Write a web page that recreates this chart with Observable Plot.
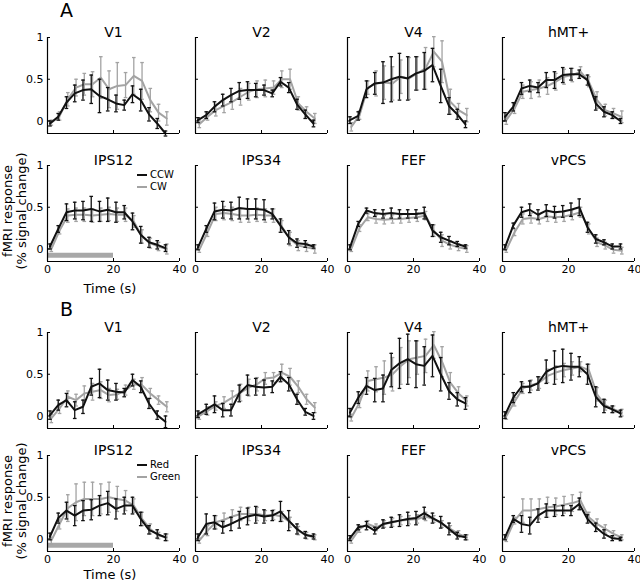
<!DOCTYPE html>
<html><head><meta charset="utf-8">
<script src="https://cdn.jsdelivr.net/npm/d3@7"></script>
<script src="https://cdn.jsdelivr.net/npm/@observablehq/plot@0.6"></script>
<style>
body{margin:0;background:#fff;font-family:"DejaVu Sans",sans-serif;}
#fig{position:relative;width:640px;height:582px;overflow:hidden;background:#fff;}
.abs{position:absolute;white-space:nowrap;color:#000;}
.sw{display:inline-block;width:10px;height:0;border-top:2px solid #000;vertical-align:middle;margin-right:3px;}
</style></head><body><div id="fig"></div>
<script>
// time of each sample (s)
const time = [0.75, 3.25, 5.75, 8.25, 10.75, 13.25, 15.75, 18.25, 20.75, 23.25, 25.75, 28.25, 30.75, 33.25, 35.75];
const regions = ["V1", "V2", "V4", "hMT+", "IPS12", "IPS34", "FEF", "vPCS"];
const sections = ["A", "B"];
const seriesA = ["CCW", "CW"];
const seriesB = ["Red", "Green"];
const yTicks = [0, 0.5, 1];
const xTicks = [0, 20, 40];
const stimOn = 0, stimOff = 20, stimLevel = -0.075;
const yMin = -0.15, yMax = 1;

// ---- Section A (CCW = black, CW = gray) ----
const A_V1_k  = [-0.03, 0.05, 0.22, 0.33, 0.37, 0.38, 0.30, 0.26, 0.21, 0.19, 0.32, 0.25, 0.08, -0.03, -0.15];
const A_V1_ke = [0.03, 0.04, 0.07, 0.10, 0.12, 0.17, 0.20, 0.14, 0.10, 0.06, 0.10, 0.13, 0.08, 0.06, 0.03];
const A_V1_g  = [-0.02, 0.06, 0.26, 0.40, 0.44, 0.44, 0.52, 0.38, 0.42, 0.43, 0.54, 0.48, 0.25, 0.10, 0.03];
const A_V1_ge = [0.03, 0.05, 0.08, 0.10, 0.13, 0.15, 0.25, 0.22, 0.28, 0.15, 0.22, 0.22, 0.14, 0.10, 0.08];

const A_V2_k  = [0.01, 0.07, 0.17, 0.25, 0.31, 0.36, 0.37, 0.37, 0.37, 0.33, 0.47, 0.40, 0.20, 0.08, -0.03];
const A_V2_ke = [0.03, 0.04, 0.06, 0.07, 0.08, 0.10, 0.10, 0.08, 0.06, 0.04, 0.05, 0.06, 0.06, 0.05, 0.04];
const A_V2_g  = [-0.04, 0.05, 0.13, 0.18, 0.23, 0.29, 0.35, 0.38, 0.39, 0.40, 0.50, 0.50, 0.21, 0.11, 0.03];
const A_V2_ge = [0.04, 0.04, 0.07, 0.08, 0.09, 0.10, 0.10, 0.10, 0.10, 0.08, 0.10, 0.12, 0.08, 0.06, 0.06];

const A_V4_k  = [0.01, 0.06, 0.38, 0.45, 0.46, 0.50, 0.53, 0.51, 0.57, 0.60, 0.67, 0.42, 0.18, 0.08, -0.04];
const A_V4_ke = [0.04, 0.05, 0.10, 0.13, 0.25, 0.27, 0.28, 0.26, 0.20, 0.22, 0.20, 0.20, 0.10, 0.06, 0.04];
const A_V4_g  = [-0.07, 0.07, 0.40, 0.45, 0.46, 0.45, 0.53, 0.51, 0.57, 0.63, 0.83, 0.71, 0.23, 0.13, 0.07];
const A_V4_ge = [0.05, 0.05, 0.08, 0.15, 0.20, 0.20, 0.20, 0.25, 0.20, 0.25, 0.18, 0.25, 0.15, 0.08, 0.08];

const A_hMT_k  = [0.05, 0.17, 0.39, 0.42, 0.40, 0.49, 0.49, 0.55, 0.56, 0.56, 0.49, 0.21, 0.11, 0.07, 0.00];
const A_hMT_ke = [0.05, 0.05, 0.07, 0.07, 0.06, 0.09, 0.10, 0.09, 0.07, 0.05, 0.06, 0.08, 0.06, 0.04, 0.03];
const A_hMT_g  = [0.01, 0.15, 0.35, 0.37, 0.39, 0.42, 0.47, 0.53, 0.55, 0.59, 0.47, 0.25, 0.13, 0.09, 0.05];
const A_hMT_ge = [0.05, 0.06, 0.08, 0.10, 0.10, 0.10, 0.10, 0.09, 0.08, 0.06, 0.06, 0.10, 0.07, 0.06, 0.07];

const A_IPS12_k  = [0.03, 0.24, 0.44, 0.46, 0.46, 0.48, 0.45, 0.47, 0.44, 0.44, 0.33, 0.17, 0.08, 0.05, 0.01];
const A_IPS12_ke = [0.03, 0.04, 0.10, 0.10, 0.11, 0.15, 0.12, 0.14, 0.12, 0.08, 0.10, 0.10, 0.06, 0.05, 0.04];
const A_IPS12_g  = [0.00, 0.22, 0.40, 0.41, 0.41, 0.40, 0.41, 0.42, 0.41, 0.41, 0.33, 0.15, 0.07, 0.03, 0.00];
const A_IPS12_ge = [0.03, 0.04, 0.08, 0.08, 0.08, 0.08, 0.08, 0.08, 0.08, 0.08, 0.07, 0.08, 0.06, 0.05, 0.06];

const A_IPS34_k  = [0.02, 0.24, 0.45, 0.47, 0.46, 0.49, 0.48, 0.48, 0.47, 0.42, 0.28, 0.14, 0.07, 0.06, 0.03];
const A_IPS34_ke = [0.03, 0.04, 0.10, 0.10, 0.10, 0.13, 0.12, 0.12, 0.12, 0.06, 0.08, 0.08, 0.05, 0.04, 0.02];
const A_IPS34_g  = [-0.01, 0.20, 0.42, 0.43, 0.42, 0.40, 0.40, 0.41, 0.40, 0.40, 0.27, 0.12, 0.04, 0.02, 0.00];
const A_IPS34_ge = [0.03, 0.05, 0.08, 0.08, 0.08, 0.08, 0.08, 0.08, 0.08, 0.08, 0.07, 0.08, 0.06, 0.05, 0.05];

const A_FEF_k  = [0.02, 0.30, 0.46, 0.43, 0.42, 0.43, 0.42, 0.42, 0.42, 0.43, 0.22, 0.14, 0.10, 0.06, 0.03];
const A_FEF_ke = [0.03, 0.03, 0.03, 0.04, 0.05, 0.06, 0.05, 0.05, 0.05, 0.07, 0.07, 0.06, 0.05, 0.03, 0.02];
const A_FEF_g  = [0.00, 0.25, 0.38, 0.36, 0.35, 0.36, 0.36, 0.37, 0.38, 0.40, 0.22, 0.10, 0.05, 0.02, 0.00];
const A_FEF_ge = [0.03, 0.04, 0.04, 0.05, 0.05, 0.05, 0.05, 0.05, 0.05, 0.05, 0.07, 0.07, 0.05, 0.04, 0.04];

const A_vPCS_k  = [0.02, 0.28, 0.44, 0.47, 0.41, 0.46, 0.44, 0.45, 0.47, 0.50, 0.26, 0.12, 0.08, 0.03, 0.03];
const A_vPCS_ke = [0.03, 0.03, 0.06, 0.07, 0.06, 0.07, 0.07, 0.07, 0.08, 0.10, 0.06, 0.05, 0.03, 0.03, 0.03];
const A_vPCS_g  = [-0.01, 0.20, 0.36, 0.37, 0.36, 0.39, 0.38, 0.39, 0.41, 0.44, 0.24, 0.08, 0.04, -0.01, -0.02];
const A_vPCS_ge = [0.03, 0.04, 0.06, 0.06, 0.06, 0.06, 0.06, 0.06, 0.06, 0.06, 0.06, 0.05, 0.04, 0.04, 0.04];

// ---- Section B (Red = black, Green = gray) ----
const B_V1_k  = [0.01, 0.13, 0.19, 0.07, 0.11, 0.35, 0.39, 0.31, 0.29, 0.28, 0.43, 0.35, 0.15, 0.01, -0.07];
const B_V1_ke = [0.05, 0.06, 0.08, 0.10, 0.08, 0.10, 0.17, 0.12, 0.10, 0.05, 0.07, 0.07, 0.06, 0.05, 0.07];
const B_V1_g  = [-0.03, 0.09, 0.23, 0.19, 0.27, 0.29, 0.31, 0.25, 0.26, 0.31, 0.38, 0.37, 0.27, 0.19, 0.11];
const B_V1_ge = [0.05, 0.06, 0.07, 0.07, 0.09, 0.10, 0.10, 0.08, 0.06, 0.06, 0.06, 0.09, 0.06, 0.05, 0.06];

const B_V2_k  = [0.02, 0.08, 0.14, 0.07, 0.07, 0.27, 0.37, 0.35, 0.34, 0.35, 0.47, 0.38, 0.20, 0.05, 0.00];
const B_V2_ke = [0.04, 0.06, 0.10, 0.08, 0.07, 0.10, 0.12, 0.10, 0.09, 0.07, 0.06, 0.08, 0.06, 0.04, 0.04];
const B_V2_g  = [0.00, 0.06, 0.12, 0.16, 0.22, 0.28, 0.34, 0.38, 0.45, 0.46, 0.52, 0.47, 0.35, 0.20, 0.10];
const B_V2_ge = [0.04, 0.05, 0.05, 0.07, 0.08, 0.10, 0.10, 0.08, 0.07, 0.06, 0.10, 0.10, 0.07, 0.06, 0.06];

const B_V4_k  = [0.04, 0.22, 0.36, 0.31, 0.33, 0.55, 0.63, 0.68, 0.62, 0.60, 0.72, 0.50, 0.30, 0.20, 0.15];
const B_V4_ke = [0.05, 0.07, 0.10, 0.14, 0.16, 0.20, 0.30, 0.30, 0.28, 0.23, 0.25, 0.20, 0.10, 0.08, 0.07];
const B_V4_g  = [-0.02, 0.16, 0.42, 0.44, 0.46, 0.50, 0.60, 0.68, 0.70, 0.72, 0.85, 0.65, 0.40, 0.27, 0.18];
const B_V4_ge = [0.04, 0.06, 0.12, 0.15, 0.20, 0.20, 0.22, 0.22, 0.20, 0.20, 0.16, 0.18, 0.12, 0.08, 0.06];

const B_hMT_k  = [0.01, 0.22, 0.35, 0.35, 0.39, 0.53, 0.58, 0.60, 0.59, 0.59, 0.50, 0.23, 0.12, 0.08, 0.03];
const B_hMT_ke = [0.04, 0.06, 0.06, 0.07, 0.08, 0.14, 0.20, 0.20, 0.16, 0.12, 0.12, 0.12, 0.08, 0.04, 0.04];
const B_hMT_g  = [0.00, 0.17, 0.33, 0.37, 0.40, 0.48, 0.52, 0.55, 0.57, 0.59, 0.55, 0.26, 0.13, 0.08, 0.04];
const B_hMT_ge = [0.04, 0.05, 0.06, 0.06, 0.07, 0.08, 0.08, 0.08, 0.08, 0.06, 0.07, 0.08, 0.06, 0.04, 0.04];

const B_IPS12_k  = [0.03, 0.25, 0.34, 0.28, 0.34, 0.35, 0.40, 0.43, 0.36, 0.40, 0.40, 0.24, 0.11, 0.06, 0.02];
const B_IPS12_ke = [0.04, 0.06, 0.10, 0.12, 0.12, 0.12, 0.12, 0.14, 0.12, 0.10, 0.10, 0.08, 0.05, 0.05, 0.04];
const B_IPS12_g  = [-0.02, 0.18, 0.37, 0.44, 0.48, 0.48, 0.48, 0.50, 0.48, 0.46, 0.40, 0.24, 0.12, 0.04, 0.02];
const B_IPS12_ge = [0.04, 0.06, 0.16, 0.22, 0.20, 0.20, 0.18, 0.18, 0.15, 0.12, 0.08, 0.08, 0.06, 0.04, 0.04];

const B_IPS34_k  = [0.02, 0.18, 0.20, 0.14, 0.18, 0.23, 0.27, 0.29, 0.27, 0.28, 0.33, 0.22, 0.12, 0.05, 0.03];
const B_IPS34_ke = [0.04, 0.12, 0.08, 0.07, 0.08, 0.10, 0.10, 0.10, 0.08, 0.06, 0.12, 0.12, 0.06, 0.04, 0.03];
const B_IPS34_g  = [-0.02, 0.10, 0.20, 0.23, 0.27, 0.30, 0.30, 0.30, 0.28, 0.29, 0.27, 0.20, 0.10, 0.04, 0.02];
const B_IPS34_ge = [0.03, 0.06, 0.08, 0.08, 0.08, 0.08, 0.08, 0.08, 0.06, 0.06, 0.06, 0.06, 0.05, 0.04, 0.03];

const B_FEF_k  = [0.01, 0.14, 0.16, 0.10, 0.18, 0.20, 0.22, 0.24, 0.25, 0.31, 0.25, 0.20, 0.12, 0.04, 0.02];
const B_FEF_ke = [0.03, 0.03, 0.05, 0.04, 0.05, 0.06, 0.07, 0.08, 0.08, 0.07, 0.06, 0.07, 0.07, 0.04, 0.03];
const B_FEF_g  = [-0.02, 0.12, 0.18, 0.14, 0.18, 0.20, 0.22, 0.23, 0.24, 0.27, 0.24, 0.18, 0.12, 0.06, 0.02];
const B_FEF_ge = [0.03, 0.04, 0.04, 0.04, 0.04, 0.05, 0.05, 0.05, 0.05, 0.05, 0.04, 0.04, 0.04, 0.04, 0.03];

const B_vPCS_k  = [0.02, 0.24, 0.18, 0.16, 0.28, 0.34, 0.34, 0.34, 0.34, 0.42, 0.24, 0.14, 0.06, 0.01, 0.00];
const B_vPCS_ke = [0.03, 0.04, 0.10, 0.10, 0.08, 0.08, 0.07, 0.06, 0.06, 0.07, 0.05, 0.05, 0.05, 0.03, 0.02];
const B_vPCS_g  = [0.00, 0.22, 0.34, 0.34, 0.36, 0.38, 0.39, 0.41, 0.43, 0.46, 0.26, 0.18, 0.12, 0.06, 0.02];
const B_vPCS_ge = [0.03, 0.04, 0.14, 0.14, 0.12, 0.12, 0.10, 0.10, 0.10, 0.10, 0.06, 0.06, 0.05, 0.04, 0.03];

const dataA = [
  [A_V1_k, A_V1_ke, A_V1_g, A_V1_ge], [A_V2_k, A_V2_ke, A_V2_g, A_V2_ge],
  [A_V4_k, A_V4_ke, A_V4_g, A_V4_ge], [A_hMT_k, A_hMT_ke, A_hMT_g, A_hMT_ge],
  [A_IPS12_k, A_IPS12_ke, A_IPS12_g, A_IPS12_ge], [A_IPS34_k, A_IPS34_ke, A_IPS34_g, A_IPS34_ge],
  [A_FEF_k, A_FEF_ke, A_FEF_g, A_FEF_ge], [A_vPCS_k, A_vPCS_ke, A_vPCS_g, A_vPCS_ge]
];
const dataB = [
  [B_V1_k, B_V1_ke, B_V1_g, B_V1_ge], [B_V2_k, B_V2_ke, B_V2_g, B_V2_ge],
  [B_V4_k, B_V4_ke, B_V4_g, B_V4_ge], [B_hMT_k, B_hMT_ke, B_hMT_g, B_hMT_ge],
  [B_IPS12_k, B_IPS12_ke, B_IPS12_g, B_IPS12_ge], [B_IPS34_k, B_IPS34_ke, B_IPS34_g, B_IPS34_ge],
  [B_FEF_k, B_FEF_ke, B_FEF_g, B_FEF_ge], [B_vPCS_k, B_vPCS_ke, B_vPCS_g, B_vPCS_ge]
];

// ---- layout ----
const colX = [47, 195, 347, 502];
const rowY = [37, 165, 332, 455];
const PW = 132, PH = 96;
const mL = 30, mR = 8, mT = 24, mB = 28;
const BLACK = "#111", GRAY = "#a3a3a3";
const fig = document.getElementById("fig");

function makePanel(sec, ri, arrs) {
  const col = ri % 4, sub = Math.floor(ri / 4);
  const row = sec * 2 + sub;
  const [k, ke, g, ge] = arrs;
  const black = k.map((m, i) => ({t: time[i], m, e: ke[i]}));
  const gray = g.map((m, i) => ({t: time[i] + 0.4, m, e: ge[i]}));
  const first = col === 0, bottom = sub === 1;
  const errMarks = (d, c) => [
    Plot.ruleX(d, {x: "t", y1: v => v.m - v.e, y2: v => v.m + v.e, stroke: c, strokeWidth: 1.3}),
    Plot.link(d, {x1: v => v.t - 0.55, x2: v => v.t + 0.55, y1: v => v.m + v.e, y2: v => v.m + v.e, stroke: c, strokeWidth: 1.3}),
    Plot.link(d, {x1: v => v.t - 0.55, x2: v => v.t + 0.55, y1: v => v.m - v.e, y2: v => v.m - v.e, stroke: c, strokeWidth: 1.3})
  ];
  const marks = [];
  if (first && bottom) {
    marks.push(Plot.ruleY([{a: stimOn, b: stimOff, y: stimLevel}], {x1: "a", x2: "b", y: "y", stroke: "#a8a8a8", strokeWidth: 5}));
  }
  marks.push(
    ...errMarks(gray, GRAY),
    Plot.line(gray, {x: "t", y: "m", stroke: GRAY, strokeWidth: 2}),
    ...errMarks(black, BLACK),
    Plot.line(black, {x: "t", y: "m", stroke: BLACK, strokeWidth: 2}),
    Plot.ruleX([0], {stroke: "#000", strokeWidth: 1.2}),
    Plot.ruleY([yMin], {stroke: "#000", strokeWidth: 1.2}),
    Plot.axisY(yTicks, {anchor: "left", tickSize: -3, tickPadding: 7, fontSize: 11, label: null,
      tickFormat: first ? (d => String(d)) : (() => "")}),
    Plot.axisX(xTicks, {anchor: "bottom", tickSize: -3, tickPadding: 7, fontSize: 11, label: null,
      tickFormat: bottom ? (d => String(d)) : (() => "")}),
    Plot.text([regions[ri]], {text: d => d, frameAnchor: "top", lineAnchor: "bottom", dy: -1, fontSize: 14, fill: "#000"})
  );
  const svg = Plot.plot({
    width: mL + PW + mR, height: mT + PH + mB,
    marginLeft: mL, marginRight: mR, marginTop: mT, marginBottom: mB,
    x: {domain: [0, 40], label: null},
    y: {domain: [yMin, yMax], label: null},
    style: {background: "transparent", overflow: "visible", fontFamily: "DejaVu Sans", color: "#000"},
    marks
  });
  svg.style.position = "absolute";
  svg.style.left = (colX[col] - mL) + "px";
  svg.style.top = (rowY[row] - mT) + "px";
  svg.style.maxWidth = "none";
  fig.appendChild(svg);
}

dataA.forEach((a, i) => makePanel(0, i, a));
dataB.forEach((a, i) => makePanel(1, i, a));

function addDiv(html, css) {
  const d = document.createElement("div");
  d.className = "abs";
  d.innerHTML = html;
  Object.assign(d.style, css);
  fig.appendChild(d);
  return d;
}
// section letters
addDiv(sections[0], {left: "60px", top: "1px", fontSize: "19px", lineHeight: "19px"});
addDiv(sections[1], {left: "60px", top: "300px", fontSize: "19px", lineHeight: "19px"});
// axis labels and legends (bottom row of each section)
[[seriesA, 1, 27], [seriesB, 3, 23]].forEach(([names, row, off]) => {
  const bottomY = rowY[row] + PH;
  addDiv("Time (s)", {left: "110px", top: (bottomY + off) + "px", fontSize: "13px", lineHeight: "13px", transform: "translate(-50%,-50%)"});
  addDiv("fMRI response<br>(% signal change)", {left: "15px", top: (rowY[row] + PH / 2 - 2) + "px", fontSize: "13px",
    lineHeight: "14px", textAlign: "center", transform: "translate(-50%,-50%) rotate(-90deg)"});
  addDiv(`<span class="sw" style="border-color:${BLACK}"></span>${names[0]}<br><span class="sw" style="border-color:${GRAY}"></span>${names[1]}`,
    {left: "137px", top: (rowY[row] + 4) + "px", fontSize: "10px", lineHeight: "12px"});
});
</script></body></html>
